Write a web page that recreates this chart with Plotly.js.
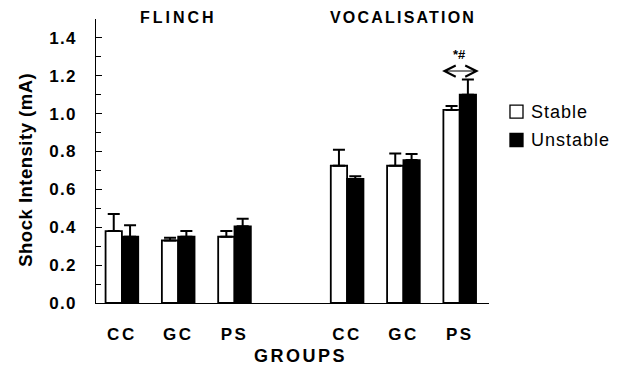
<!DOCTYPE html>
<html>
<head>
<meta charset="utf-8">
<script src="https://cdn.plot.ly/plotly-3.0.1.min.js"></script>
<style>html,body{margin:0;padding:0;background:#fff;}</style>
</head>
<body>
<div id="chart" style="width:623px;height:372px;"></div>
<script>
// Data
const positions = [0, 1, 2, 4, 5, 6];
const groupLabels = ["CC", "GC", "PS", "CC", "GC", "PS"];
const stableValues = [0.38, 0.33, 0.35, 0.725, 0.725, 1.02];
const stableErrors = [0.09, 0.015, 0.03, 0.085, 0.065, 0.02];
const unstableValues = [0.35, 0.35, 0.405, 0.655, 0.755, 1.10];
const unstableErrors = [0.06, 0.03, 0.04, 0.015, 0.032, 0.08];
const panelTitles = ["FLINCH", "VOCALISATION"];
const seriesNames = ["Stable", "Unstable"];
const yTicks = [0, 0.2, 0.4, 0.6, 0.8, 1.0, 1.2, 1.4];

const FONT = "Liberation Sans, Arial, sans-serif";
const sp = (s, n) => '<span style="letter-spacing:' + n + 'px">' + s + '</span>';

const traces = [
  {
    type: "bar", name: seriesNames[0], x: positions, y: stableValues, showlegend: false,
    marker: {color: "#ffffff", line: {color: "#000000", width: 1.8}},
    error_y: {type: "data", symmetric: false, array: stableErrors, arrayminus: stableErrors.map(() => 0),
              color: "#000000", thickness: 2, width: 6}
  },
  {
    type: "bar", name: seriesNames[1], x: positions, y: unstableValues, showlegend: false,
    marker: {color: "#000000", line: {color: "#000000", width: 1.8}},
    error_y: {type: "data", symmetric: false, array: unstableErrors, arrayminus: unstableErrors.map(() => 0),
              color: "#000000", thickness: 2, width: 6}
  }
];

const psIdx = 5;
const arrowY = unstableValues[psIdx] + unstableErrors[psIdx] + 0.045;

// legend geometry (paper units)
const legX = 1.0534, legW = 0.0331, legH = 0.0229;
const legY = [0.6736, 0.574];

const layout = {
  width: 623, height: 372,
  margin: {l: 96, r: 134, t: 19, b: 69},
  paper_bgcolor: "#ffffff", plot_bgcolor: "#ffffff",
  barmode: "group", bargap: 0.42, bargroupgap: 0,
  showlegend: false,
  font: {family: FONT, color: "#000"},
  xaxis: {
    range: [-0.46, 6.52], showgrid: false, zeroline: false,
    showline: true, linecolor: "#000", linewidth: 1,
    tickvals: positions, ticktext: groupLabels.map(s => sp(s, 2.5)),
    ticks: "", ticklabelstandoff: 16,
    tickfont: {family: FONT, size: 17, weight: "bold", color: "#000"}
  },
  yaxis: {
    range: [0, 1.5], showgrid: false, zeroline: false,
    showline: true, linecolor: "#000", linewidth: 1,
    tickvals: yTicks, ticktext: yTicks.map(v => sp(v.toFixed(1), 1.2)),
    ticks: "inside", ticklen: 6, tickcolor: "#000",
    minor: {dtick: 0.1, ticks: "inside", ticklen: 5, tickcolor: "#000"},
    ticklabelstandoff: 15,
    tickfont: {family: FONT, size: 17, weight: "bold", color: "#000"}
  },
  shapes: [
    {type: "rect", xref: "paper", yref: "paper", x0: legX, x1: legX + legW, y0: legY[0] - legH, y1: legY[0] + legH,
     fillcolor: "#ffffff", line: {color: "#000", width: 1.3}},
    {type: "rect", xref: "paper", yref: "paper", x0: legX, x1: legX + legW, y0: legY[1] - legH, y1: legY[1] + legH,
     fillcolor: "#000000", line: {color: "#000", width: 1.3}}
  ],
  annotations: [
    {text: sp(seriesNames[0], 1), x: legX + legW + 0.016, xref: "paper", xanchor: "left", y: legY[0], yref: "paper", yanchor: "middle",
     showarrow: false, font: {family: FONT, size: 18, color: "#000"}},
    {text: sp(seriesNames[1], 1), x: legX + legW + 0.016, xref: "paper", xanchor: "left", y: legY[1], yref: "paper", yanchor: "middle",
     showarrow: false, font: {family: FONT, size: 18, color: "#000"}},
    {text: sp(panelTitles[0], 3), x: 1, xref: "x", y: 1.0, yref: "paper", yanchor: "middle", yshift: 2,
     showarrow: false, font: {family: FONT, size: 16, weight: "bold", color: "#000"}},
    {text: sp(panelTitles[1], 2.2), x: 5, xref: "x", y: 1.0, yref: "paper", yanchor: "middle", yshift: 2,
     showarrow: false, font: {family: FONT, size: 16, weight: "bold", color: "#000"}},
    {text: sp("Shock Intensity (mA)", 0.5), textangle: -90, x: -0.18, xref: "paper", y: 0.47, yref: "paper",
     xanchor: "center", yanchor: "middle",
     showarrow: false, font: {family: FONT, size: 18.5, weight: "bold", color: "#000"}},
    {text: sp("GROUPS", 2.5), x: 0.52, xref: "paper", y: -0.186, yref: "paper", yanchor: "middle",
     showarrow: false, font: {family: FONT, size: 18, weight: "bold", color: "#000"}},
    {text: "*#", x: positions[psIdx], xref: "x", y: arrowY + 0.085, yref: "y",
     showarrow: false, font: {family: FONT, size: 13, weight: "bold", color: "#000"}},
    {text: "", x: positions[psIdx] + 0.34, y: arrowY, xref: "x", yref: "y",
     ax: positions[psIdx] - 0.34, ay: arrowY, axref: "x", ayref: "y",
     showarrow: true, arrowhead: 5, startarrowhead: 5, arrowside: "end+start",
     arrowsize: 2, startarrowsize: 2, arrowwidth: 1.1, arrowcolor: "#000"}
  ]
};

Plotly.newPlot("chart", traces, layout, {displayModeBar: false, staticPlot: true});
</script>
</body>
</html>
